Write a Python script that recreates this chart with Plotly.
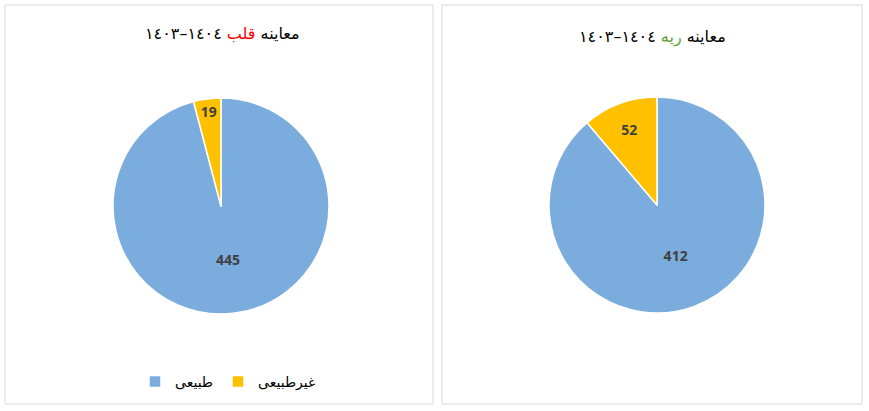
import plotly.graph_objects as go

W, H = 869, 411

labels = ["طبیعی", "غیرطبیعی"]
heart_values = [445, 19]
lung_values = [412, 52]
colors = ["#7AACDD", "#FFC000"]

title_prefix = "معاینه"
heart_word = "قلب"
lung_word = "ریه"
years = "١٤٠٤–١٤٠٣"

def px_x(x):
    return x / W

def px_y(y):
    return 1 - y / H

fig = go.Figure()

fig.add_trace(go.Pie(
    labels=labels, values=heart_values, sort=False, direction="clockwise", rotation=0,
    marker=dict(colors=colors, line=dict(color="white", width=1.5)),
    texttemplate="<b>%{value}</b>", textposition="inside", insidetextorientation="horizontal",
    textfont=dict(family="Open Sans", size=14, color="#404040"),
    domain=dict(x=[px_x(113), px_x(329)], y=[px_y(314), px_y(98)]),
    legend="legend", hoverinfo="label+value",
))
fig.add_trace(go.Pie(
    labels=labels, values=lung_values, sort=False, direction="clockwise", rotation=0,
    marker=dict(colors=colors, line=dict(color="white", width=1.5)),
    texttemplate="<b>%{value}</b>", textposition="inside", insidetextorientation="horizontal",
    textfont=dict(family="Open Sans", size=14, color="#404040"),
    domain=dict(x=[px_x(549), px_x(765)], y=[px_y(313), px_y(97)]),
    legend="legend2", hoverinfo="label+value",
))

legend_common = dict(orientation="h", xanchor="center", yanchor="middle",
                     font=dict(family="DejaVu Sans", size=14, color="#000000"),
                     bgcolor="rgba(0,0,0,0)")
fig.update_layout(
    width=W, height=H, margin=dict(l=0, r=0, t=0, b=0),
    paper_bgcolor="white", plot_bgcolor="white",
    legend=dict(x=px_x(228), y=px_y(382), **legend_common),
    legend2=dict(x=px_x(666), y=px_y(382), **legend_common),
    shapes=[
        dict(type="rect", xref="paper", yref="paper", x0=px_x(5), x1=px_x(433), y0=px_y(404), y1=px_y(5),
             line=dict(color="#D9D9D9", width=1)),
        dict(type="rect", xref="paper", yref="paper", x0=px_x(442), x1=px_x(862), y0=px_y(404), y1=px_y(5),
             line=dict(color="#D9D9D9", width=1)),
    ],
    annotations=[
        dict(xref="paper", yref="paper", x=px_x(222), y=px_y(33), showarrow=False,
             xanchor="center", yanchor="middle",
             text=f"{title_prefix} <span style='color:#FF0000'>{heart_word}</span> {years}",
             font=dict(family="DejaVu Sans", size=16, color="#000000")),
        dict(xref="paper", yref="paper", x=px_x(652), y=px_y(37), showarrow=False,
             xanchor="center", yanchor="middle",
             text=f"{title_prefix} <span style='color:#5E9E3A'>{lung_word}</span> {years}",
             font=dict(family="DejaVu Sans", size=16, color="#000000")),
    ],
)

fig.write_html("out.html", config={"displayModeBar": False},
               post_script="document.body.style.margin='0';")
